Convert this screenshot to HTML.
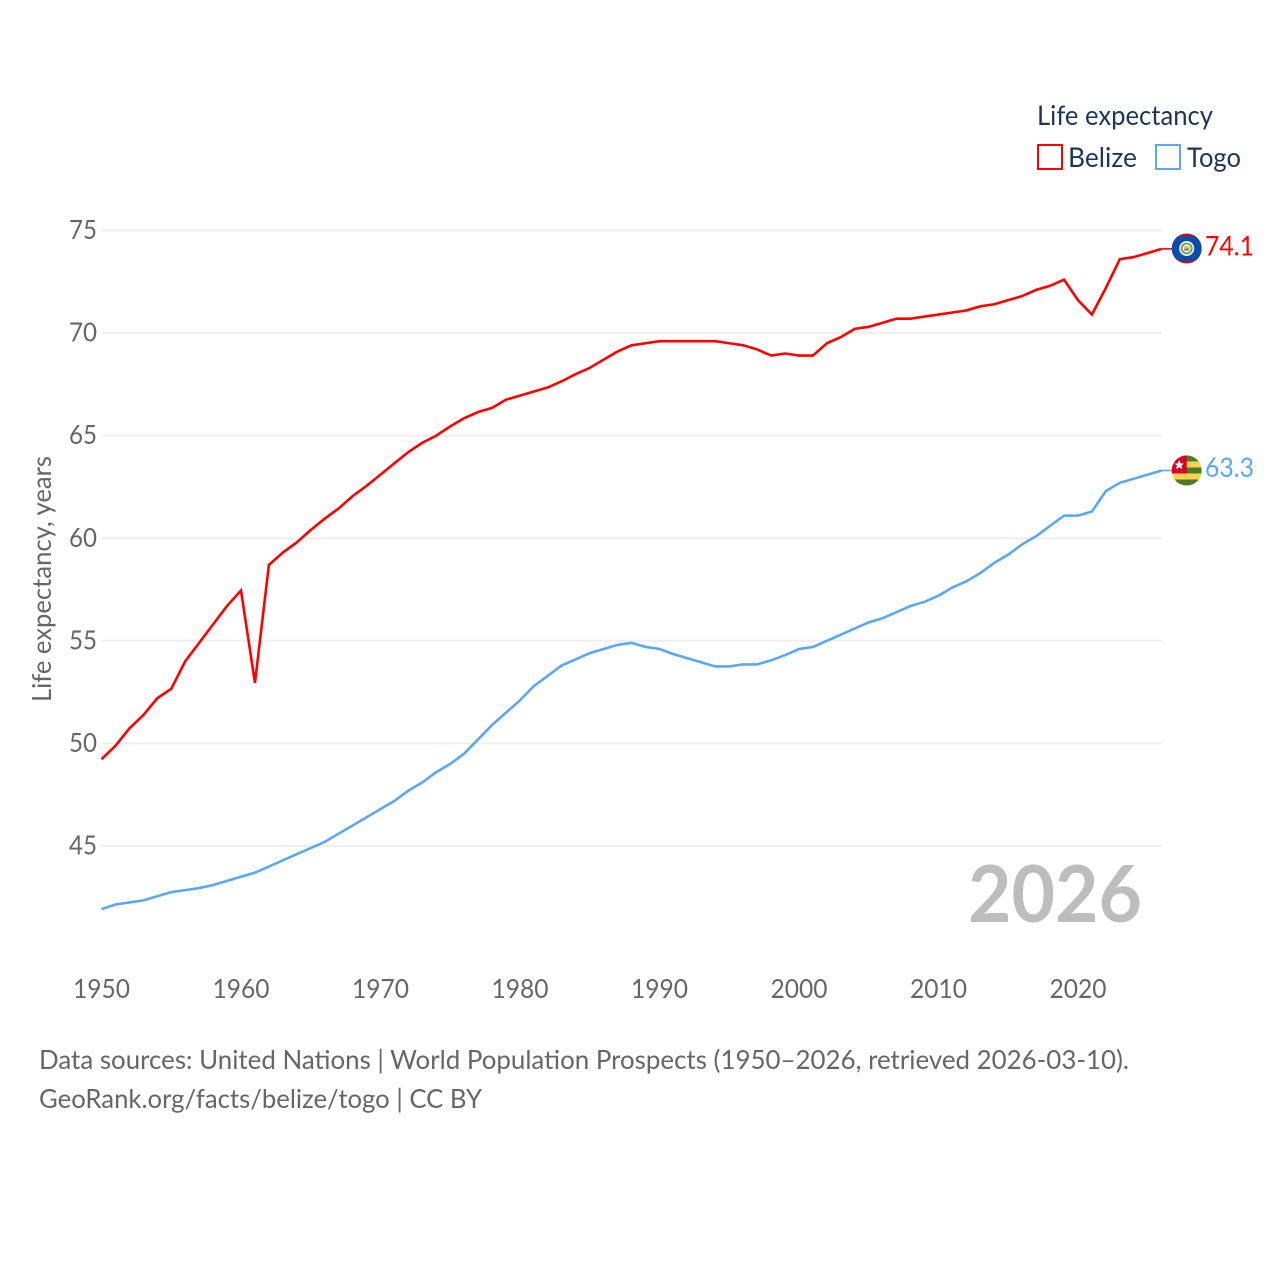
<!DOCTYPE html>
<html><head><meta charset="utf-8"><title>Life expectancy: Belize and Togo</title>
<style>
html,body{margin:0;padding:0;background:#fff}
svg{display:block}
text{font-family:"Lato","Carlito","Liberation Sans",sans-serif}
</style></head>
<body>
<svg id="chart" width="1280" height="1280" viewBox="0 0 1280 1280" xmlns="http://www.w3.org/2000/svg">
<defs>
<clipPath id="flag-clip"><circle cx="0" cy="0" r="15"/></clipPath>
</defs>
<rect width="1280" height="1280" fill="#fff"/>
<g id="grid"></g>
<g id="yticks"></g>
<g id="xticks"></g>
<text transform="translate(51,702) rotate(-90)" font-size="26.5" fill="#666" textLength="246" lengthAdjust="spacingAndGlyphs">Life expectancy, years</text>
<text x="968" y="922" font-size="79" font-weight="700" fill="#bdbdbd" textLength="174" lengthAdjust="spacingAndGlyphs">2026</text>
<g id="series"></g>
<g>
<text x="1037" y="125" font-size="27.5" fill="#1d3557" textLength="176" lengthAdjust="spacingAndGlyphs">Life expectancy</text>
<rect x="1038" y="145" width="24" height="24" fill="none" stroke="#ff0000" stroke-width="2"/>
<text x="1068" y="167" font-size="27.5" fill="#1d3557" textLength="69" lengthAdjust="spacingAndGlyphs">Belize</text>
<rect x="1156" y="145" width="24" height="24" fill="none" stroke="#5ba8f0" stroke-width="2"/>
<text x="1187" y="167" font-size="27.5" fill="#1d3557" textLength="54" lengthAdjust="spacingAndGlyphs">Togo</text>
</g>
<text x="39" y="1069" font-size="26.5" fill="#666" textLength="1090" lengthAdjust="spacingAndGlyphs">Data sources: United Nations | World Population Prospects (1950–2026, retrieved 2026-03-10).</text>
<text x="39" y="1108" font-size="26.5" fill="#666" textLength="443" lengthAdjust="spacingAndGlyphs">GeoRank.org/facts/belize/togo | CC BY</text>
</svg>
<script>
const firstYear = 1950;
const belizeValues = [49.23,49.88,50.73,51.38,52.2,52.66,54.0,54.9,55.8,56.7,57.45,52.95,58.7,59.3,59.8,60.4,60.95,61.45,62.05,62.55,63.1,63.65,64.2,64.65,65.0,65.45,65.85,66.15,66.35,66.75,66.95,67.15,67.35,67.65,68.0,68.3,68.7,69.1,69.4,69.5,69.6,69.6,69.6,69.6,69.6,69.5,69.4,69.2,68.9,69.0,68.9,68.9,69.5,69.8,70.2,70.3,70.5,70.7,70.7,70.8,70.9,71.0,71.1,71.3,71.4,71.6,71.8,72.1,72.3,72.6,71.6,70.9,72.2,73.6,73.7,73.9,74.1];
const togoValues = [41.92,42.15,42.25,42.35,42.55,42.75,42.85,42.95,43.1,43.3,43.5,43.7,44.0,44.3,44.6,44.9,45.2,45.6,46.0,46.4,46.8,47.2,47.7,48.1,48.6,49.0,49.5,50.2,50.9,51.5,52.1,52.8,53.3,53.8,54.1,54.4,54.6,54.8,54.9,54.7,54.6,54.35,54.15,53.95,53.75,53.75,53.85,53.85,54.05,54.3,54.6,54.7,55.0,55.3,55.6,55.9,56.1,56.4,56.7,56.9,57.2,57.6,57.9,58.3,58.8,59.2,59.7,60.1,60.6,61.1,61.1,61.3,62.3,62.7,62.9,63.1,63.3];
const yTickValues = [45,50,55,60,65,70,75];
const xTickValues = [1950,1960,1970,1980,1990,2000,2010,2020];
const belizeLabel = "74.1";
const togoLabel = "63.3";

const NS = "http://www.w3.org/2000/svg";
function xScale(year){ return 101.5 + (year - 1950) * (1161.7 - 101.5) / 76; }
function yScale(v){ return 230.4 + (75 - v) * (846 - 230.4) / 30; }
function mk(tag, attrs, parent){
  const el = document.createElementNS(NS, tag);
  for (const k in attrs) el.setAttribute(k, attrs[k]);
  parent.appendChild(el);
  return el;
}
const gridG = document.getElementById('grid');
const yG = document.getElementById('yticks');
const xG = document.getElementById('xticks');
const seriesG = document.getElementById('series');

yTickValues.forEach(function(v){
  const ln = mk('line', {x1:101.5, x2:1161.7, y1:yScale(v), y2:yScale(v), stroke:'#efefef', 'stroke-width':2}, gridG);
  
  
  const t = mk('text', {x:97, y:yScale(v)+8.6, 'text-anchor':'end', 'font-size':26.5, fill:'#666', textLength:28, lengthAdjust:'spacingAndGlyphs'}, yG);
  
  
  t.textContent = v;
});
xTickValues.forEach(function(v){
  const t = mk('text', {x:xScale(v)-28.5, y:998, 'font-size':26.5, fill:'#666', textLength:57, lengthAdjust:'spacingAndGlyphs'}, xG);
  
  
  t.textContent = v;
});

function drawLine(values, color, name){
  const pts = values.map(function(v,i){ return xScale(firstYear+i).toFixed(2)+','+yScale(v).toFixed(2); }).join(' ');
  const p = mk('polyline', {points:pts, fill:'none', stroke:color, 'stroke-width':2.6, 'stroke-linejoin':'miter'}, seriesG);
  
  
  const last = values[values.length-1];
  const c = mk('line', {x1:xScale(firstYear+values.length-1), x2:1172, y1:yScale(last), y2:yScale(last), stroke:color, 'stroke-width':1.6}, seriesG);
  
  
}
drawLine(belizeValues, '#ff0000', 'belize-line');
drawLine(togoValues, '#5ba8f0', 'togo-line');

function endLabel(value, text, color, name){
  const t = mk('text', {x:1205, y:yScale(value)+6.5, 'font-size':27.5, fill:color, textLength:49, lengthAdjust:'spacingAndGlyphs'}, seriesG);
  
  
  t.textContent = text;
}
const belizeLast = belizeValues[belizeValues.length-1];
const togoLast = togoValues[togoValues.length-1];
endLabel(belizeLast, belizeLabel, '#ff0000', 'belize-end-label');
endLabel(togoLast, togoLabel, '#5ba8f0', 'togo-end-label');

const fb = mk('g', {transform:'translate(1186.7,'+(yScale(belizeLast)-0.4)+')'}, seriesG);


const fbc = mk('g', {'clip-path':'url(#flag-clip)'}, fb);
mk('rect', {x:-15,y:-15,width:30,height:30,fill:'#a6192e'}, fbc);
mk('rect', {x:-15,y:-12,width:30,height:24,fill:'#0a4cab'}, fbc);
mk('circle', {cx:0,cy:0,r:7.5,fill:'#f4f4f0'}, fbc);
mk('circle', {cx:0,cy:0,r:5,fill:'none',stroke:'#7d9a4a','stroke-width':1.8}, fbc);
mk('circle', {cx:0,cy:0,r:3.4,fill:'#f4f4f0'}, fbc);
mk('rect', {x:-2.4,y:-2.4,width:4.8,height:2.4,fill:'#e6bf4e'}, fbc);
mk('rect', {x:-2.4,y:0,width:4.8,height:2.2,fill:'#5f8fa8'}, fbc);

const ft = mk('g', {transform:'translate(1186.7,'+yScale(togoLast)+')'}, seriesG);


const ftc = mk('g', {'clip-path':'url(#flag-clip)'}, ft);
mk('rect', {x:-15,y:-15,width:30,height:30,fill:'#ffd34d'}, ftc);
mk('rect', {x:-15,y:-15,width:30,height:6,fill:'#4d7a2a'}, ftc);
mk('rect', {x:-15,y:-3,width:30,height:6,fill:'#4d7a2a'}, ftc);
mk('rect', {x:-15,y:9,width:30,height:6,fill:'#4d7a2a'}, ftc);
mk('rect', {x:-15,y:-15,width:15,height:18,fill:'#d80027'}, ftc);
mk('polygon', {points:'-7.5,-10.5 -6,-7 -2.8,-7 -5.3,-4.8 -4.4,-1.2 -7.5,-3.2 -10.6,-1.2 -9.7,-4.8 -12.2,-7 -9,-7', fill:'#fff'}, ftc);
</script>
</body></html>
